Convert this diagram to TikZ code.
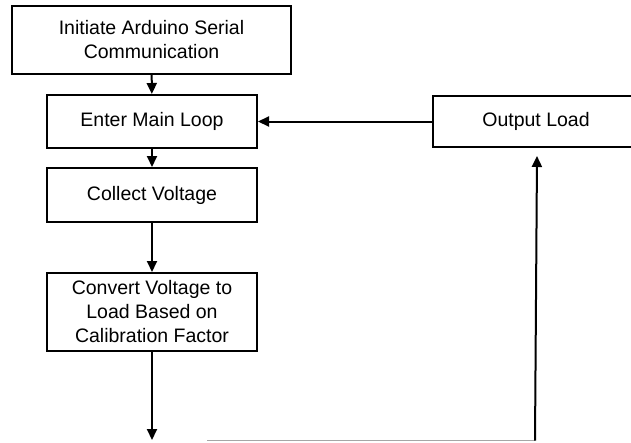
\documentclass[tikz,border=0pt]{standalone}
\usepackage{fontspec}
\setmainfont{Liberation Sans}
\usetikzlibrary{arrows.meta}
\begin{document}
\begin{tikzpicture}[x=1pt,y=-1pt,
  box/.style={draw=black,line width=2pt,minimum width=210pt,align=center,inner sep=0pt,
    font=\fontsize{19.5}{24}\selectfont},
  conn/.style={line width=2pt,-{Triangle[length=11pt,width=10pt]}}]
\clip (0,0) rectangle (631,442);
\useasboundingbox (0,0) rectangle (631,442);
\fill[white] (0,0) rectangle (631,442);
\node[box,minimum width=279pt,minimum height=68pt] (init) at (151.5,40) {Initiate Arduino Serial\\Communication};
\node[box,minimum height=53pt] (loop) at (152,121.5) {Enter Main Loop};
\node[box,minimum height=54pt] (coll) at (152,195) {Collect Voltage};
\node[box,minimum height=78pt] (conv) at (152,312) {Convert Voltage to\\Load Based on\\Calibration Factor};
\node[box,minimum width=206pt,minimum height=51pt] (out) at (536,121.5) {Output Load};
\coordinate (end) at (152,440);
\coordinate (b1) at (207,440.5);
\coordinate (b2) at (535,440.5);
\coordinate (tip) at (537,156);
\draw[conn] (init) -- (loop);
\draw[conn] (loop) -- (coll);
\draw[conn] (coll) -- (conv);
\draw[conn] (conv) -- (end);
\draw[conn] (out) -- (loop);
\draw[gray!70,line width=1.5pt] (b1) -- (b2);
\draw[conn] (b2) -- (tip);
\end{tikzpicture}
\end{document}
